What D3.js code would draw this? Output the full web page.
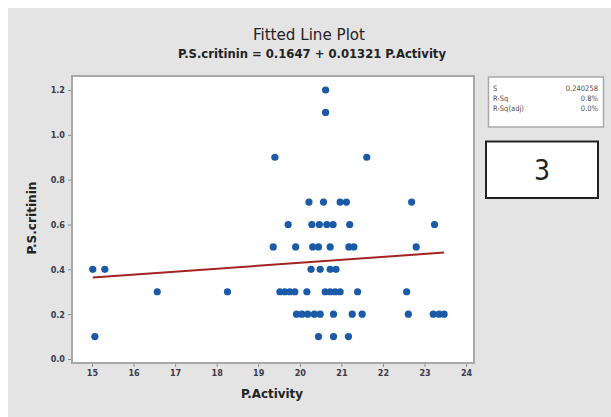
<!DOCTYPE html>
<html><head><meta charset="utf-8">
<script src="https://cdn.jsdelivr.net/npm/d3@7"></script>
<style>body{margin:0;background:#fff}svg{display:block}text{font-family:"Liberation Sans Narrow","DejaVu Sans Condensed",sans-serif}</style>
</head><body>
<svg id="c" width="611" height="417"></svg>
<script>
const xTicks = [15,16,17,18,19,20,21,22,23,24];
const yTicks = [0.0,0.2,0.4,0.6,0.8,1.0,1.2];
const pointX = [
  20.62,
  20.62,
  19.4, 21.61,
  20.22, 20.57, 20.97, 21.12, 22.69,
  19.72, 20.29, 20.47, 20.65, 20.8, 21.2, 23.24,
  19.36, 19.9, 20.31, 20.45, 20.73, 21.18, 21.3, 22.8,
  15.02, 15.31, 20.27, 20.49, 20.73, 20.87,
  16.57, 18.26, 19.52, 19.64, 19.76, 19.88, 20.17, 20.61, 20.73, 20.85, 20.97, 21.39, 22.57,
  19.92, 20.05, 20.19, 20.35, 20.49, 20.81, 21.26, 21.5, 22.61, 23.21, 23.35, 23.47,
  15.07, 20.45, 20.81, 21.17
];
const pointY = [
  1.2,
  1.1,
  0.9, 0.9,
  0.7, 0.7, 0.7, 0.7, 0.7,
  0.6, 0.6, 0.6, 0.6, 0.6, 0.6, 0.6,
  0.5, 0.5, 0.5, 0.5, 0.5, 0.5, 0.5, 0.5,
  0.4, 0.4, 0.4, 0.4, 0.4, 0.4,
  0.3, 0.3, 0.3, 0.3, 0.3, 0.3, 0.3, 0.3, 0.3, 0.3, 0.3, 0.3, 0.3,
  0.2, 0.2, 0.2, 0.2, 0.2, 0.2, 0.2, 0.2, 0.2, 0.2, 0.2, 0.2,
  0.1, 0.1, 0.1, 0.1
];
const intercept = 0.1647, slope = 0.01321;
const title = "Fitted Line Plot";
const subtitle = "P.S.critinin = 0.1647  + 0.01321 P.Activity";
const xLabel = "P.Activity", yLabel = "P.S.critinin";
const statLabels = ["S","R-Sq","R-Sq(adj)"];
const statValues = ["0.240258","0.8%","0.0%"];
const boxText = "3";

const svg = d3.select("#c");
svg.append("rect").attr("x",8).attr("y",8).attr("width",603).attr("height",409).attr("fill","#e4e4e4");

const L=72,R=474,T=76,B=363;
const x = d3.scaleLinear().domain([14.52,24.19]).range([L,R]);
const y = d3.scaleLinear().domain([-0.018,1.2625]).range([B,T]);

svg.append("rect").attr("x",L).attr("y",T).attr("width",R-L).attr("height",B-T)
  .attr("fill","#fff").attr("stroke","#a8a8a8").attr("stroke-width",2);

const xa = svg.append("g").attr("transform",`translate(0,${B+1})`)
  .call(d3.axisBottom(x).tickValues(xTicks).tickSize(3).tickPadding(3).tickFormat(d3.format("d")));
const ya = svg.append("g").attr("transform",`translate(${L-1},0)`)
  .call(d3.axisLeft(y).tickValues(yTicks).tickSize(3).tickPadding(3).tickFormat(d3.format(".1f")));
[xa,ya].forEach(a=>{
  a.select(".domain").remove();
  a.selectAll(".tick line").attr("stroke","#8c8c8c");
  a.selectAll(".tick text").attr("fill","#3a3a4a").attr("font-size",9).attr("font-weight",700);
});

const pts = pointX.map((d,i)=>({x:d,y:pointY[i]}));
svg.append("g").selectAll("circle").data(pts).join("circle")
  .attr("cx",d=>x(d.x)).attr("cy",d=>y(d.y)).attr("r",3.6).attr("fill","#1a5aa6");

const xmin = d3.min(pointX), xmax = d3.max(pointX);
svg.append("line").attr("x1",x(xmin)).attr("y1",y(intercept+slope*xmin))
  .attr("x2",x(xmax)).attr("y2",y(intercept+slope*xmax))
  .attr("stroke","#a52323").attr("stroke-width",2);

svg.append("text").attr("x",309).attr("y",40).attr("text-anchor","middle")
  .attr("font-size",15).attr("fill","#222").attr("textLength",112).attr("lengthAdjust","spacingAndGlyphs").text(title);
svg.append("text").attr("x",312).attr("y",58).attr("text-anchor","middle")
  .attr("font-size",12).attr("font-weight",700).attr("fill","#222").attr("textLength",268).attr("lengthAdjust","spacingAndGlyphs").text(subtitle);

svg.append("text").attr("x",272).attr("y",398).attr("text-anchor","middle")
  .attr("font-size",12).attr("font-weight",700).attr("fill","#222").attr("textLength",62).attr("lengthAdjust","spacingAndGlyphs").text(xLabel);
svg.append("text").attr("transform","translate(36,218) rotate(-90)").attr("text-anchor","middle")
  .attr("font-size",12).attr("font-weight",700).attr("fill","#222").attr("textLength",73).attr("lengthAdjust","spacingAndGlyphs").text(yLabel);

// stats box
svg.append("rect").attr("x",488.5).attr("y",77).attr("width",115).attr("height",50)
  .attr("fill","#fff").attr("stroke","#a8a8a8").attr("stroke-width",1.5);
statLabels.forEach((s,i)=>{
  svg.append("text").attr("x",493).attr("y",91+i*10).attr("font-size",7.5).attr("fill","#5a4a4a").text(s);
  svg.append("text").attr("x",598).attr("y",91+i*10).attr("text-anchor","end").attr("font-size",7.5).attr("fill","#5a4a4a").text(statValues[i]);
});

svg.append("rect").attr("x",486).attr("y",141.5).attr("width",112).attr("height",56.5)
  .attr("fill","#fff").attr("stroke","#222").attr("stroke-width",2);
svg.append("text").attr("x",542).attr("y",180).attr("text-anchor","middle")
  .attr("font-size",28).attr("fill","#222").attr("font-family","'Open Sans',sans-serif").text(boxText);
</script>
</body></html>
